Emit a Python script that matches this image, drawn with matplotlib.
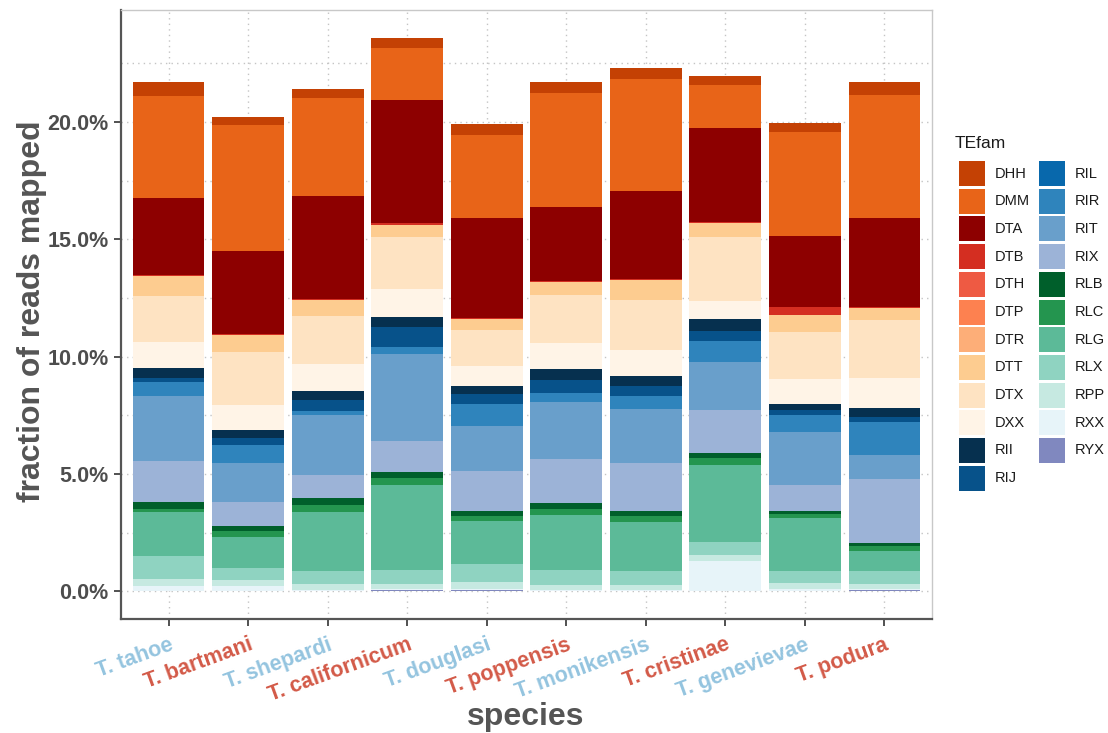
import numpy as np
import matplotlib
matplotlib.use("Agg")
import matplotlib.pyplot as plt
from matplotlib.patches import Rectangle

plt.rcParams['font.family'] = ['Liberation Sans', 'DejaVu Sans']

species = ["T. tahoe", "T. bartmani", "T. shepardi", "T. californicum", "T. douglasi",
           "T. poppensis", "T. monikensis", "T. cristinae", "T. genevievae", "T. podura"]
label_colors = ["#94c4df", "#d35a48"] * 5
y_ticks = [0, 5, 10, 15, 20]
y_minor = [2.5, 7.5, 12.5, 17.5, 22.5]

# percent of reads mapped per TE family, one value per species
DHH = [0.56, 0.37, 0.37, 0.44, 0.44, 0.44, 0.43, 0.37, 0.37, 0.54]
DMM = [4.38, 5.36, 4.18, 2.20, 3.57, 4.87, 4.79, 1.83, 4.44, 5.25]
DTA = [3.26, 3.51, 4.40, 5.26, 4.26, 3.16, 3.75, 3.99, 3.02, 3.76]
DTB = [0.05, 0.05, 0.05, 0.05, 0.05, 0.05, 0.05, 0.05, 0.36, 0.05]
DTH = [0, 0, 0, 0, 0, 0, 0, 0, 0, 0]
DTP = [0, 0, 0, 0, 0, 0, 0, 0, 0, 0]
DTR = [0, 0, 0, 0, 0, 0, 0, 0, 0, 0]
DTT = [0.84, 0.74, 0.66, 0.51, 0.43, 0.55, 0.87, 0.59, 0.71, 0.51]
DTX = [1.97, 2.26, 2.08, 2.24, 1.55, 2.05, 2.11, 2.74, 2.02, 2.48]
DXX = [1.13, 1.05, 1.13, 1.19, 0.86, 1.08, 1.11, 0.79, 1.04, 1.27]
RII = [0.40, 0.34, 0.38, 0.42, 0.33, 0.47, 0.43, 0.49, 0.28, 0.38]
RIJ = [0.18, 0.33, 0.48, 0.85, 0.43, 0.58, 0.44, 0.42, 0.19, 0.22]
RIL = [0, 0, 0, 0, 0, 0, 0, 0, 0, 0]
RIR = [0.61, 0.74, 0.17, 0.30, 0.93, 0.39, 0.54, 0.91, 0.71, 1.43]
RIT = [2.74, 1.67, 2.57, 3.70, 1.91, 2.42, 2.29, 2.05, 2.26, 1.02]
RIX = [1.76, 1.01, 0.98, 1.34, 1.71, 1.87, 2.06, 1.84, 1.11, 2.74]
RLB = [0.28, 0.21, 0.26, 0.27, 0.22, 0.23, 0.22, 0.20, 0.13, 0.09]
RLC = [0.17, 0.28, 0.33, 0.26, 0.23, 0.26, 0.26, 0.28, 0.20, 0.23]
RLG = [1.86, 1.33, 2.52, 3.64, 1.81, 2.37, 2.09, 3.31, 2.26, 0.87]
RLX = [0.96, 0.50, 0.52, 0.58, 0.79, 0.64, 0.59, 0.54, 0.48, 0.52]
RPP = [0.31, 0.25, 0.28, 0.22, 0.28, 0.21, 0.21, 0.27, 0.27, 0.25]
RXX = [0.23, 0.23, 0.05, 0.06, 0.06, 0.05, 0.05, 1.28, 0.10, 0.03]
RYX = [0, 0, 0, 0.05, 0.05, 0, 0, 0, 0, 0.05]

families = ["DHH", "DMM", "DTA", "DTB", "DTH", "DTP", "DTR", "DTT", "DTX", "DXX",
            "RII", "RIJ", "RIL", "RIR", "RIT", "RIX", "RLB", "RLC", "RLG", "RLX",
            "RPP", "RXX", "RYX"]
values = [DHH, DMM, DTA, DTB, DTH, DTP, DTR, DTT, DTX, DXX,
          RII, RIJ, RIL, RIR, RIT, RIX, RLB, RLC, RLG, RLX, RPP, RXX, RYX]
colors = ["#c44104", "#e86418", "#8d0000", "#d42e21", "#ee5a43", "#fd8150",
          "#fdae78", "#fdcc90", "#fee3c2", "#fff4e7",
          "#06304f", "#07528a", "#0868ac", "#2f84bc", "#699fcb", "#9cb3d7",
          "#005f2b", "#24954f", "#5cba98", "#8fd3c1", "#c6e9e1", "#e7f4f9",
          "#8088bf"]

W, H = 1108, 733
fig = plt.figure(figsize=(W / 100, H / 100), dpi=100)
ax = fig.add_axes([121 / W, (H - 619) / H, (932 - 121) / W, (619 - 10) / H])

x = np.arange(1, len(species) + 1)
bottom = np.zeros(len(species))
# stack from the bottom family up so DHH sits on top
for fam, vals, col in zip(families[::-1], values[::-1], colors[::-1]):
    vals = np.array(vals, dtype=float)
    ax.bar(x, vals, bottom=bottom, width=0.9, color=col, linewidth=0, zorder=3)
    bottom += vals

ax.set_xlim(0.4, 10.6)
ax.set_ylim(-1.18, 24.78)
ax.set_yticks(y_ticks)
ax.set_yticks(y_minor, minor=True)
ax.set_yticklabels([f"{v:.1f}%" for v in y_ticks], fontsize=15.5, fontweight="bold", color="#4d4d4d")
ax.grid(True, which="both", axis="y", linestyle=(0, (1, 3)), color="#c4c4c4", linewidth=1, zorder=0)
ax.grid(True, which="major", axis="x", linestyle=(0, (1, 3)), color="#c4c4c4", linewidth=1, zorder=0)
ax.tick_params(axis="y", which="minor", length=0)

ax.set_xticks(x)
ax.set_xticklabels(species, rotation=20, ha="right", va="top", rotation_mode="anchor",
                   fontsize=15.5, fontweight="bold")
for lab, c in zip(ax.get_xticklabels(), label_colors):
    lab.set_color(c)
ax.tick_params(axis="both", which="major", length=5, width=1.2, color="#333333", pad=4)
ax.tick_params(axis="x", pad=6)

for side in ["top", "right"]:
    ax.spines[side].set_color("#c8c8c8")
    ax.spines[side].set_linewidth(1)
for side in ["left", "bottom"]:
    ax.spines[side].set_color("#555555")
    ax.spines[side].set_linewidth(1.6)


def fx(px):
    return px / W


def fy(py):
    return 1 - py / H


fig.text(fx(526), fy(717), "species", fontsize=23, fontweight="bold", color="#555555",
         ha="center", va="center")
fig.text(fx(32), fy(311), "fraction of reads mapped", fontsize=23, fontweight="bold",
         color="#555555", ha="center", va="center", rotation=90)

# legend: two columns, first holds 12 keys
fig.text(fx(955), fy(144), "TEfam", fontsize=12.5, color="#1a1a1a", va="center", ha="left")
pitch = 27.7
for i, (fam, col) in enumerate(zip(families, colors)):
    colnum = 0 if i < 12 else 1
    row = i if i < 12 else i - 12
    kx = 959 if colnum == 0 else 1039
    ky = 161 + row * pitch
    fig.add_artist(Rectangle((fx(kx), fy(ky + 25)), 26 / W, 25 / H,
                             transform=fig.transFigure, facecolor=col, edgecolor="none"))
    fig.text(fx(kx + 36), fy(ky + 12.5), fam, fontsize=10.5, color="#1a1a1a", va="center", ha="left")

fig.savefig("out.png", dpi=100)
